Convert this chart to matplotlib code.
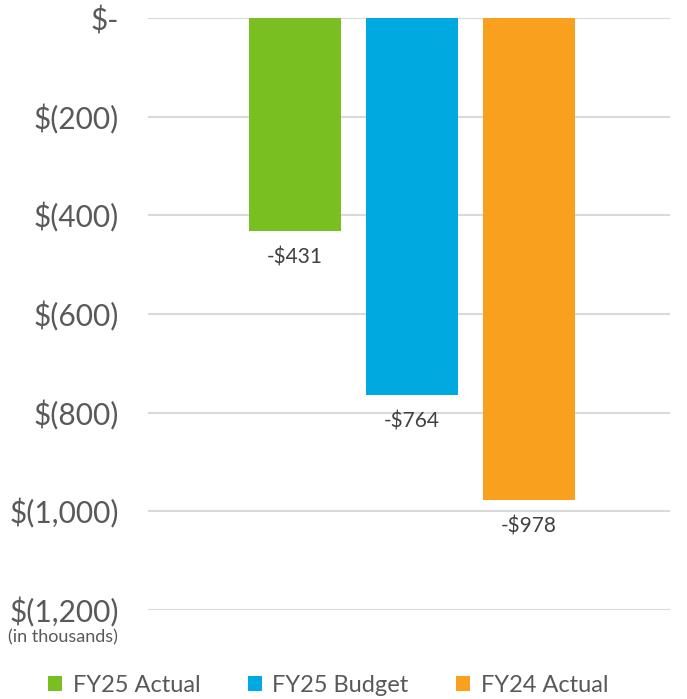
import matplotlib.pyplot as plt

# Net result by scenario (in thousands)
series = ['FY25 Actual', 'FY25 Budget', 'FY24 Actual']
values = [-431, -764, -978]
colors = ['#7ABF22', '#00A9E0', '#F9A11E']
y_ticks = [0, -200, -400, -600, -800, -1000, -1200]
y_tick_labels = ['$-', '$(200)', '$(400)', '$(600)', '$(800)', '$(1,000)', '$(1,200)']

plt.rcParams['font.family'] = ['Lato', 'DejaVu Sans']
text_color = '#595959'

fig = plt.figure(figsize=(6.87, 6.99), dpi=100)
ax = fig.add_axes([148 / 687, 1 - 610 / 699, (670 - 148) / 687, (610 - 18) / 699])

positions = [-1, 0, 1]
bars = ax.bar(positions, values, width=0.786, color=colors, label=series, zorder=3)

for rect, v in zip(bars, values):
    ax.annotate(f'-${abs(v)}', (rect.get_x() + rect.get_width() / 2, v),
                xytext=(0, -19), textcoords='offset points',
                ha='center', va='center', fontsize=15, color='#404040')

ax.set_ylim(-1200, 0)
ax.set_xlim(-2.256, 2.205)
ax.set_yticks(y_ticks)
ax.set_yticklabels(y_tick_labels, fontsize=21.5, color=text_color)
ax.set_xticks([])
ax.tick_params(axis='y', length=0, pad=21)
ax.yaxis.grid(True, color='#d9d9d9', linewidth=1.5, zorder=0)
for s in ax.spines.values():
    s.set_visible(False)

fig.text(63 / 687, 1 - 637 / 699, '(in thousands)', ha='center', va='center',
         fontsize=13, color=text_color)

fig.legend(handles=bars, labels=series, loc='center', bbox_to_anchor=(328 / 687, 1 - 685 / 699),
           ncol=3, frameon=False, fontsize=17, labelcolor=text_color,
           handlelength=0.6, handleheight=0.6, handletextpad=0.45, columnspacing=2.0)

fig.savefig('out.png', dpi=100)
